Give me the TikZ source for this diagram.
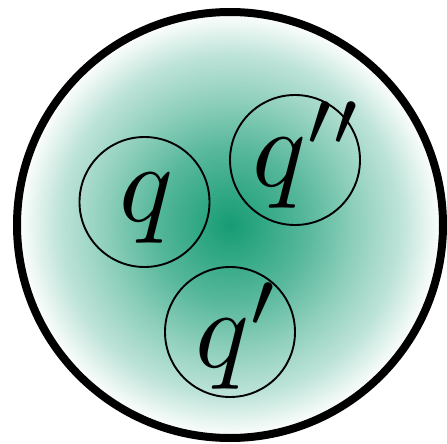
\documentclass[tikz,border=0pt]{standalone}
\usepackage{graphicx}
\definecolor{gc}{RGB}{22,156,116}
\pgfdeclareradialshading{greenfade}{\pgfpointorigin}{color(0bp)=(gc); color(9bp)=(gc!72!white); color(15bp)=(gc!47!white); color(20bp)=(gc!28!white); color(23.5bp)=(gc!8!white); color(25bp)=(white); color(50bp)=(white)}
\newcommand{\hugemath}[1]{\scalebox{11.2}{$#1$}}
\begin{document}
\begin{tikzpicture}[x=1pt,y=-1pt,
  ring/.style={circle,draw=black,line width=1.9pt,minimum size=130pt,inner sep=0pt},
  lbl/.style={inner sep=0pt,anchor=base west,font=\fontsize{10}{10}\selectfont}]
\useasboundingbox (0,0) rectangle (447,444);
\shade[shading=greenfade] (230,225) circle[radius=213pt];
\draw[line width=8pt] (230,225) circle[radius=213pt];
\node[ring] (cq) at (144.5,202) {};
\node[ring] (cqpp) at (295,160) {};
\node[ring] (cqp) at (230,332) {};
\node[lbl] (tq) at (119,221) {\hugemath{q}};
\node[lbl] (tqpp) at (252,186) {\hugemath{q''}};
\node[lbl] (tqp) at (195,367) {\hugemath{q'}};
\end{tikzpicture}
\end{document}
